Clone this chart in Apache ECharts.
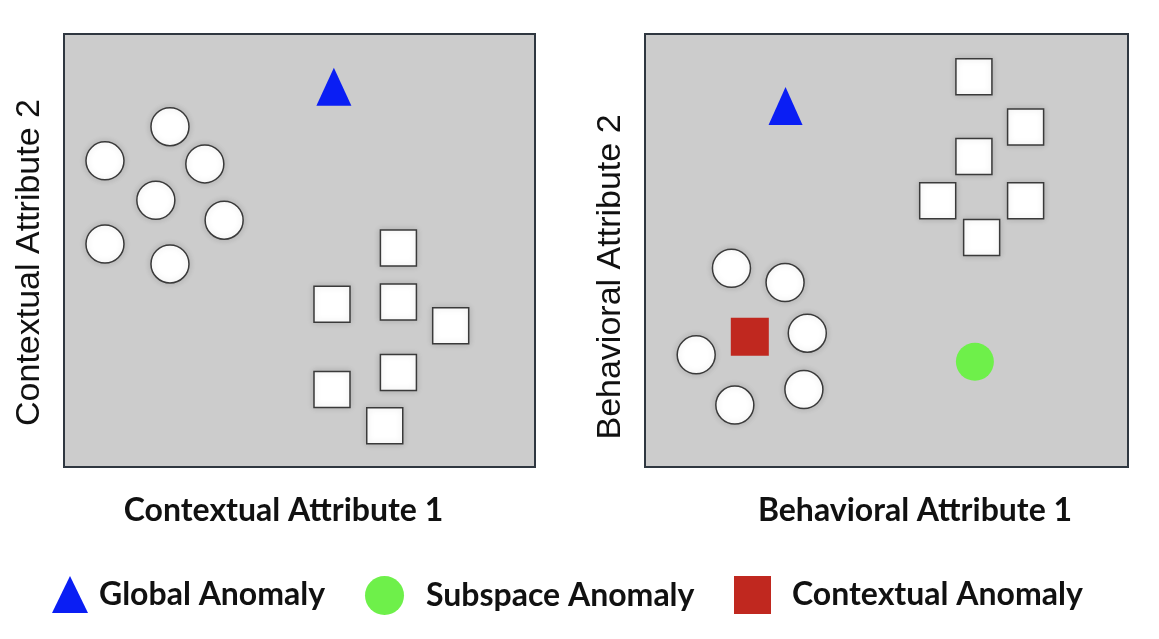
<!DOCTYPE html>
<html>
<head>
<meta charset="utf-8">
<script src="https://cdn.jsdelivr.net/npm/echarts@6/dist/echarts.min.js"></script>
<style>html,body{margin:0;padding:0;background:#fff;}#c{width:1159px;height:639px;}</style>
</head>
<body>
<div id="c"></div>
<script>
// Left panel (Contextual attributes), values on a 0-100 scale
var ctxCircles = [[22.5,78.6],[8.7,70.7],[29.9,70.0],[19.5,61.6],[34.0,57.0],[8.7,51.5],[22.5,46.9]];
var ctxSquares = [[71.0,50.6],[56.9,37.6],[71.0,38.1],[82.1,32.6],[71.0,21.8],[56.9,17.9],[68.1,9.5]];
var ctxGlobal = [[57.3,87.8]];
// Right panel (Behavioral attributes)
var behCircles = [[17.9,45.9],[29.0,42.6],[33.6,30.9],[10.6,25.9],[32.9,17.9],[18.6,14.3]];
var behSquares = [[68.1,90.1],[78.8,78.5],[68.1,71.7],[60.6,61.5],[78.8,61.5],[69.7,53.0]];
var behGlobal = [[29.1,83.4]];
var behSubspace = [[68.3,24.3]];
var behContextual = [[21.7,30.1]];
var axisNames = ['Contextual Attribute 1','Contextual Attribute 2','Behavioral Attribute 1','Behavioral Attribute 2'];
var legendNames = ['Global Anomaly','Subspace Anomaly','Contextual Anomaly'];

var blue = '#0a1ef4', green = '#6ef04a', red = '#c0281f';
var whiteStyle = {color:'#ffffff', opacity:1, borderColor:'#3a3a3a', borderWidth:1.5, shadowBlur:6, shadowColor:'rgba(0,0,0,0.15)'};

function axisX(idx, name, padding){
  return {type:'value', gridIndex:idx, min:0, max:100, axisLine:{show:false}, axisTick:{show:false},
    axisLabel:{show:false}, splitLine:{show:false}, name:name, nameLocation:'middle', nameGap:28,
    nameTextStyle:{fontFamily:'Lato', fontWeight:'bold', fontSize:32, color:'#111', padding:padding}};
}
function axisY(idx, name, padding){
  return {type:'value', gridIndex:idx, min:0, max:100, axisLine:{show:false}, axisTick:{show:false},
    axisLabel:{show:false}, splitLine:{show:false}, name:name, nameLocation:'middle', nameGap:17,
    nameTextStyle:{fontFamily:'Liberation Sans', fontSize:34, color:'#111', padding:padding}};
}
function legendAt(left, name, icon, w, h, pad){
  return {left:left, top:571, data:[{name:name, icon:icon}], itemWidth:w, itemHeight:h,
    textStyle:{fontFamily:'Lato', fontWeight:'bold', fontSize:32, color:'#111', padding:[0,0,0,pad]},
    selectedMode:false};
}

var chart = echarts.init(document.getElementById('c'));
chart.setOption({
  animation:false,
  backgroundColor:'#ffffff',
  grid:[
    {left:64, top:34, width:471, height:433, show:true, backgroundColor:'#cccccc', borderColor:'#2f3740', borderWidth:2},
    {left:645, top:34, width:483, height:433, show:true, backgroundColor:'#cccccc', borderColor:'#2f3740', borderWidth:2}
  ],
  xAxis:[axisX(0, axisNames[0], [0,32,0,0]), axisX(1, axisNames[2], [0,0,0,57])],
  yAxis:[axisY(0, axisNames[1], [0,24,0,0]), axisY(1, axisNames[3], [0,53,0,0])],
  legend:[
    legendAt(47, legendNames[0], 'triangle', 36, 37, 6),
    legendAt(360, legendNames[1], 'circle', 39, 40, 17),
    legendAt(729, legendNames[2], 'rect', 37, 38, 16)
  ],
  series:[
    {type:'scatter', xAxisIndex:0, yAxisIndex:0, data:ctxCircles, symbol:'circle', symbolSize:38, itemStyle:whiteStyle, silent:true},
    {type:'scatter', xAxisIndex:0, yAxisIndex:0, data:ctxSquares, symbol:'rect', symbolSize:36, itemStyle:whiteStyle, silent:true},
    {type:'scatter', name:legendNames[0], xAxisIndex:0, yAxisIndex:0, data:ctxGlobal, symbol:'triangle', symbolSize:[35,38], itemStyle:{color:blue, opacity:1}},
    {type:'scatter', xAxisIndex:1, yAxisIndex:1, data:behCircles, symbol:'circle', symbolSize:38, itemStyle:whiteStyle, silent:true},
    {type:'scatter', xAxisIndex:1, yAxisIndex:1, data:behSquares, symbol:'rect', symbolSize:36, itemStyle:whiteStyle, silent:true},
    {type:'scatter', name:legendNames[0], xAxisIndex:1, yAxisIndex:1, data:behGlobal, symbol:'triangle', symbolSize:[34,38], itemStyle:{color:blue, opacity:1}},
    {type:'scatter', name:legendNames[1], xAxisIndex:1, yAxisIndex:1, data:behSubspace, symbol:'circle', symbolSize:38, itemStyle:{color:green, opacity:1}},
    {type:'scatter', name:legendNames[2], xAxisIndex:1, yAxisIndex:1, data:behContextual, symbol:'rect', symbolSize:38, itemStyle:{color:red, opacity:1}}
  ]
});
</script>
</body>
</html>
